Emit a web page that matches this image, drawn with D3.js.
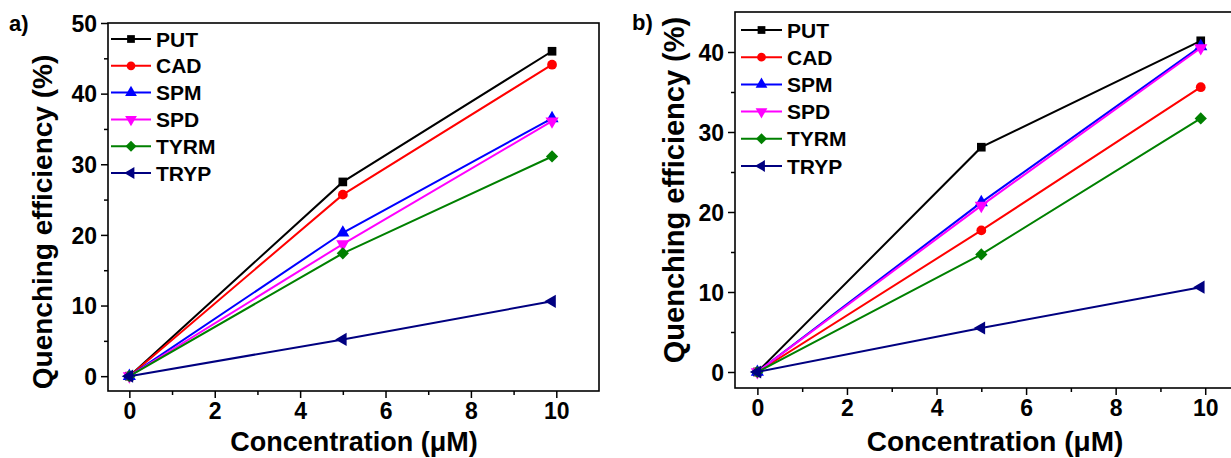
<!DOCTYPE html>
<html>
<head>
<meta charset="utf-8">
<script src="https://cdn.jsdelivr.net/npm/d3@7/dist/d3.min.js"></script>
<style>
  body { margin: 0; background: #fff; }
  svg { display: block; font-family: "Liberation Sans", Arial, sans-serif; font-weight: bold; }
</style>
</head>
<body>
<div id="chart"></div>
<script>
// data
var concentration = [0, 5, 9.9];
var seriesNames = ["PUT", "CAD", "SPM", "SPD", "TYRM", "TRYP"];
var seriesColors = ["#000000", "#ff0000", "#0000ff", "#ff00ff", "#008000", "#000080"];
var seriesMarkers = ["square", "circle", "triangleUp", "triangleDown", "diamond", "triangleLeft"];

var panelA_PUT = [0, 27.5, 46.0];
var panelA_CAD = [0, 25.7, 44.1];
var panelA_SPM = [0, 20.3, 36.5];
var panelA_SPD = [0, 18.7, 36.1];
var panelA_TYRM = [0, 17.4, 31.1];
var panelA_TRYP = [0, 5.2, 10.6];

var panelB_PUT = [0, 28.1, 41.4];
var panelB_CAD = [0, 17.7, 35.6];
var panelB_SPM = [0, 21.2, 40.7];
var panelB_SPD = [0, 20.8, 40.5];
var panelB_TYRM = [0, 14.7, 31.7];
var panelB_TRYP = [0, 5.5, 10.6];

var xTicks = [0, 2, 4, 6, 8, 10];
var panelA_yTicks = [0, 10, 20, 30, 40, 50];
var panelB_yTicks = [0, 10, 20, 30, 40];

var xTitle = "Concentration (\u03bcM)";
var yTitle = "Quenching efficiency (%)";

var width = 1231, height = 458;

var svg = d3.select("#chart")
    .append("svg")
    .attr("width", width)
    .attr("height", height);

function markerPath(kind, size) {
    var sym, rot = 0;
    if (kind === "square") sym = d3.symbolSquare;
    else if (kind === "circle") sym = d3.symbolCircle;
    else if (kind === "diamond") { sym = d3.symbolSquare; rot = 45; }
    else { sym = d3.symbolTriangle; rot = kind === "triangleDown" ? 180 : kind === "triangleLeft" ? -90 : 0; }
    return { d: d3.symbol().type(sym).size(size)(), rot: rot };
}

var panel = function (cfg) {
    var x = d3.scaleLinear().domain(cfg.xDomain).range([cfg.left, cfg.right]);
    var y = d3.scaleLinear().domain(cfg.yDomain).range([cfg.bottom, cfg.top]);
    var g = svg.append("g").classed("panel", true);

    // frame
    g.append("rect")
        .attr("x", cfg.left).attr("y", cfg.top)
        .attr("width", cfg.right - cfg.left)
        .attr("height", cfg.bottom - cfg.top)
        .attr("fill", "none")
        .attr("stroke", "#000")
        .attr("stroke-width", 1.6);

    // axes
    var xMinor = d3.range(1, 11, 2);
    var yMinor = d3.range(cfg.yTicks[0] + 5, cfg.yDomain[1], 10);

    var xAxis = g.append("g")
        .attr("transform", "translate(0," + cfg.bottom + ")")
        .call(d3.axisBottom(x).tickValues(xTicks).tickSize(7).tickSizeOuter(0).tickPadding(4));
    g.append("g")
        .attr("transform", "translate(0," + cfg.bottom + ")")
        .call(d3.axisBottom(x).tickValues(xMinor).tickSize(4).tickFormat("").tickSizeOuter(0));
    var yAxis = g.append("g")
        .attr("transform", "translate(" + cfg.left + ",0)")
        .call(d3.axisLeft(y).tickValues(cfg.yTicks).tickSize(7).tickSizeOuter(0).tickPadding(4));
    g.append("g")
        .attr("transform", "translate(" + cfg.left + ",0)")
        .call(d3.axisLeft(y).tickValues(yMinor).tickSize(4).tickFormat("").tickSizeOuter(0));

    g.selectAll(".domain").remove();
    g.selectAll(".tick line").attr("stroke", "#000").attr("stroke-width", 1.5);
    g.selectAll(".tick text")
        .attr("font-family", "Liberation Sans, Arial, sans-serif")
        .attr("font-weight", "bold")
        .attr("font-size", cfg.tickFont)
        .attr("fill", "#000");
    xAxis.selectAll(".tick text").attr("dy", "0.76em");
    yAxis.selectAll(".tick text").attr("dy", "0.36em");

    // axis titles
    g.append("text")
        .attr("x", cfg.xTitleX)
        .attr("y", cfg.xTitleY)
        .attr("text-anchor", "middle")
        .attr("font-size", cfg.titleFont)
        .text(xTitle);
    g.append("text")
        .attr("transform", "translate(" + cfg.yTitleX + "," + cfg.yTitleY + ") rotate(-90)")
        .attr("text-anchor", "middle")
        .attr("font-size", cfg.yTitleFont)
        .text(yTitle);

    // panel label
    g.append("text")
        .attr("x", cfg.labelX)
        .attr("y", cfg.labelY)
        .attr("font-size", 22)
        .text(cfg.label);

    // series lines and markers
    var line = d3.line()
        .x(function (d, i) { return x(concentration[i]); })
        .y(function (d) { return y(d); });

    cfg.series.forEach(function (vals, si) {
        var sg = g.append("g").classed("series", true);
        sg.append("path")
            .attr("d", line(vals))
            .attr("fill", "none")
            .attr("stroke", seriesColors[si])
            .attr("stroke-width", 2);
        var m = markerPath(seriesMarkers[si], 75);
        sg.selectAll("path.marker")
            .data(vals)
            .enter()
            .append("path")
            .classed("marker", true)
            .attr("d", m.d)
            .attr("fill", seriesColors[si])
            .attr("transform", function (d, i) {
                return "translate(" + x(concentration[i]) + "," + y(d) + ") rotate(" + m.rot + ")";
            });
    });

    // legend
    var leg = g.append("g")
        .attr("transform", "translate(" + cfg.legX + "," + cfg.legY + ")");
    var rows = leg.selectAll("g")
        .data(seriesNames)
        .enter()
        .append("g")
        .attr("transform", function (d, i) { return "translate(0," + i * cfg.legStep + ")"; });
    rows.append("line")
        .attr("x1", 0).attr("x2", cfg.legLine)
        .attr("stroke", function (d, i) { return seriesColors[i]; })
        .attr("stroke-width", 2);
    rows.append("path")
        .attr("d", function (d, i) { return markerPath(seriesMarkers[i], 60).d; })
        .attr("fill", function (d, i) { return seriesColors[i]; })
        .attr("transform", function (d, i) {
            return "translate(" + cfg.legLine / 2 + ",0) rotate(" + markerPath(seriesMarkers[i], 60).rot + ")";
        });
    rows.append("text")
        .attr("x", cfg.legLine + 5)
        .attr("dy", "0.36em")
        .attr("font-size", cfg.legFont)
        .text(function (d) { return d; });
};

panel({
    label: "a)", labelX: 9, labelY: 31,
    left: 108, right: 599, top: 23, bottom: 391,
    xDomain: [-0.5, 11], yDomain: [-2.1, 50],
    yTicks: panelA_yTicks,
    series: [panelA_PUT, panelA_CAD, panelA_SPM, panelA_SPD, panelA_TYRM, panelA_TRYP],
    tickFont: 23, titleFont: 27, yTitleFont: 28,
    xTitleX: 354, xTitleY: 451, yTitleX: 52, yTitleY: 222,
    legX: 111, legY: 39, legStep: 26.8, legLine: 40, legFont: 21
});

panel({
    label: "b)", labelX: 632, labelY: 30,
    left: 735, right: 1250, top: 12, bottom: 388,
    xDomain: [-0.5, 11], yDomain: [-2, 45],
    yTicks: panelB_yTicks,
    series: [panelB_PUT, panelB_CAD, panelB_SPM, panelB_SPD, panelB_TYRM, panelB_TRYP],
    tickFont: 23, titleFont: 28, yTitleFont: 29,
    xTitleX: 995, xTitleY: 451, yTitleX: 684, yTitleY: 190,
    legX: 741, legY: 30, legStep: 27.2, legLine: 41, legFont: 21
});
</script>
</body>
</html>
